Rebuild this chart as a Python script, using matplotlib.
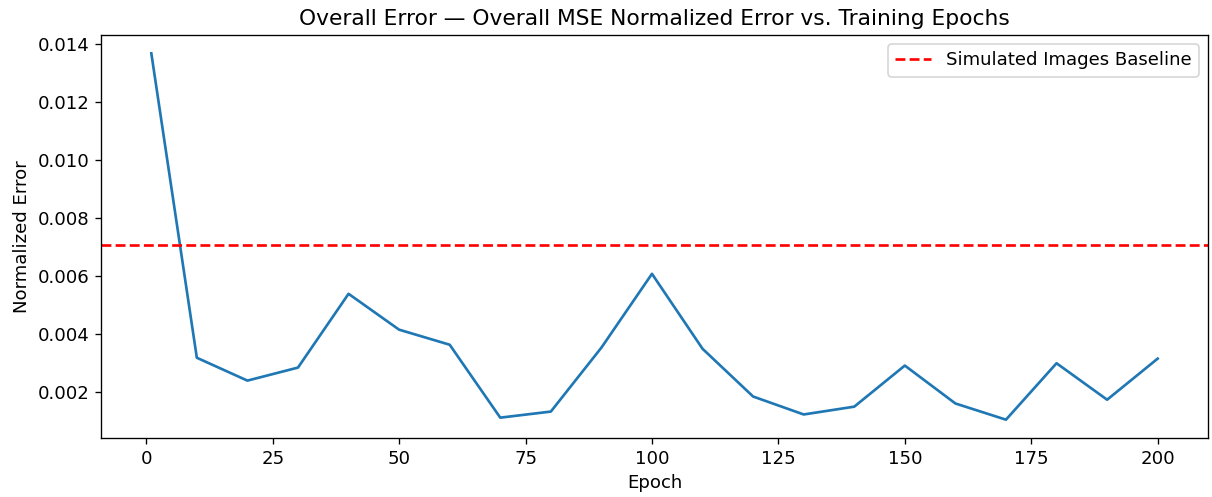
import matplotlib
matplotlib.use("Agg")
import matplotlib.pyplot as plt

epochs = [1, 10, 20, 30, 40, 50, 60, 70, 80, 90, 100,
          110, 120, 130, 140, 150, 160, 170, 180, 190, 200]
overall_error = [0.01369, 0.00317, 0.00238, 0.00283, 0.00538, 0.00414, 0.00362,
                 0.00110, 0.00131, 0.00352, 0.00607, 0.00348, 0.00183, 0.00121,
                 0.00148, 0.00290, 0.00159, 0.00103, 0.00298, 0.00172, 0.00314]
baseline = 0.00707

plt.rcParams["font.size"] = 10.9

# reference looks like a 100 dpi figure scaled up
fig, ax = plt.subplots(figsize=(10.1, 4.1417), dpi=120)
ax.plot(epochs, overall_error, linewidth=1.6)
ax.axhline(baseline, color="red", linestyle="--", linewidth=1.6,
           label="Simulated Images Baseline")
ax.set_xlabel("Epoch")
ax.set_ylabel("Normalized Error")
ax.set_title("Overall Error — Overall MSE Normalized Error vs. Training Epochs")
ax.legend(loc="upper right")
fig.subplots_adjust(left=101 / 1212, right=1208 / 1212,
                    top=1 - 35 / 497, bottom=1 - 438 / 497)
fig.savefig("out.png")
